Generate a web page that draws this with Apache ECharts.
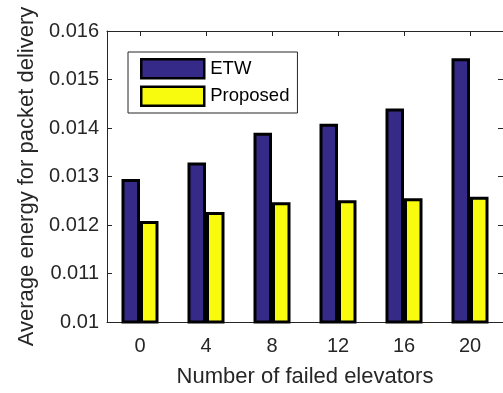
<!DOCTYPE html>
<html>
<head>
<meta charset="utf-8">
<script src="https://cdn.jsdelivr.net/npm/echarts@6/dist/echarts.min.js"></script>
<style>
  html, body { margin: 0; padding: 0; background: #fff; }
  #chart { width: 503px; height: 393px; }
</style>
</head>
<body>
<div id="chart"></div>
<script>
// Number of failed elevators (x categories)
const failedElevators = ['0', '4', '8', '12', '16', '20'];
// Average energy for packet delivery per scheme
const etwEnergy = [0.01295, 0.01329, 0.0139, 0.01409, 0.0144, 0.01544];
const proposedEnergy = [0.01208, 0.01227, 0.01247, 0.01251, 0.01255, 0.01258];
// Y axis range and step
const yMin = 0.010, yMax = 0.016, yStep = 0.001;

const FONT = 'Liberation Sans, Arial, Helvetica, sans-serif';
const INK = '#262626';

const chart = echarts.init(document.getElementById('chart'), null, { renderer: 'canvas' });

const tickInside = { show: true, inside: true, length: 5, lineStyle: { color: INK, width: 1 } };
const axisLine = { show: true, onZero: false, lineStyle: { color: INK, width: 1 } };

chart.setOption({
  animation: false,
  backgroundColor: '#fff',
  grid: { left: 107, top: 31, width: 397, height: 292 },
  legend: {
    orient: 'vertical',
    left: 128,
    top: 52,
    padding: [6, 8, 6, 12],
    itemGap: 6,
    itemWidth: 63,
    itemHeight: 19,
    icon: 'rect',
    borderColor: INK,
    borderWidth: 1,
    backgroundColor: '#fff',
    itemStyle: { borderColor: '#000', borderWidth: 2.5 },
    textStyle: { fontFamily: FONT, fontSize: 18.5, color: '#000', padding: [0, 0, 0, 1] },
    data: ['ETW', 'Proposed']
  },
  xAxis: [
    {
      type: 'category',
      data: failedElevators,
      position: 'bottom',
      name: 'Number of failed elevators',
      nameLocation: 'middle',
      nameGap: 44,
      nameTextStyle: { fontFamily: FONT, fontSize: 22, color: INK },
      axisLine: axisLine,
      axisTick: Object.assign({ alignWithLabel: true }, tickInside),
      axisLabel: { fontFamily: FONT, fontSize: 20, color: INK, margin: 14 },
      splitLine: { show: false }
    },
    {
      type: 'category',
      data: failedElevators,
      position: 'top',
      axisLine: axisLine,
      axisTick: Object.assign({ alignWithLabel: true }, tickInside),
      axisLabel: { show: false },
      splitLine: { show: false }
    }
  ],
  yAxis: [
    {
      type: 'value',
      min: yMin,
      max: yMax,
      interval: yStep,
      position: 'left',
      name: 'Average energy for packet delivery',
      nameLocation: 'middle',
      nameGap: 69,
      nameTextStyle: { fontFamily: FONT, fontSize: 22, color: INK },
      axisLine: axisLine,
      axisTick: tickInside,
      axisLabel: {
        fontFamily: FONT, fontSize: 20, color: INK, margin: 8,
        formatter: v => String(parseFloat(v.toFixed(3)))
      },
      splitLine: { show: false }
    },
    {
      type: 'value',
      min: yMin,
      max: yMax,
      interval: yStep,
      position: 'right',
      axisLine: axisLine,
      axisTick: tickInside,
      axisLabel: { show: false },
      splitLine: { show: false }
    }
  ],
  series: [
    {
      name: 'ETW',
      type: 'bar',
      data: etwEnergy,
      barWidth: 18.5,
      barGap: '0%',
      itemStyle: { color: '#352a87', borderColor: '#000', borderWidth: 3 }
    },
    {
      name: 'Proposed',
      type: 'bar',
      data: proposedEnergy,
      barWidth: 18.5,
      itemStyle: { color: '#f9fb0e', borderColor: '#000', borderWidth: 3 }
    }
  ]
});
</script>
</body>
</html>
